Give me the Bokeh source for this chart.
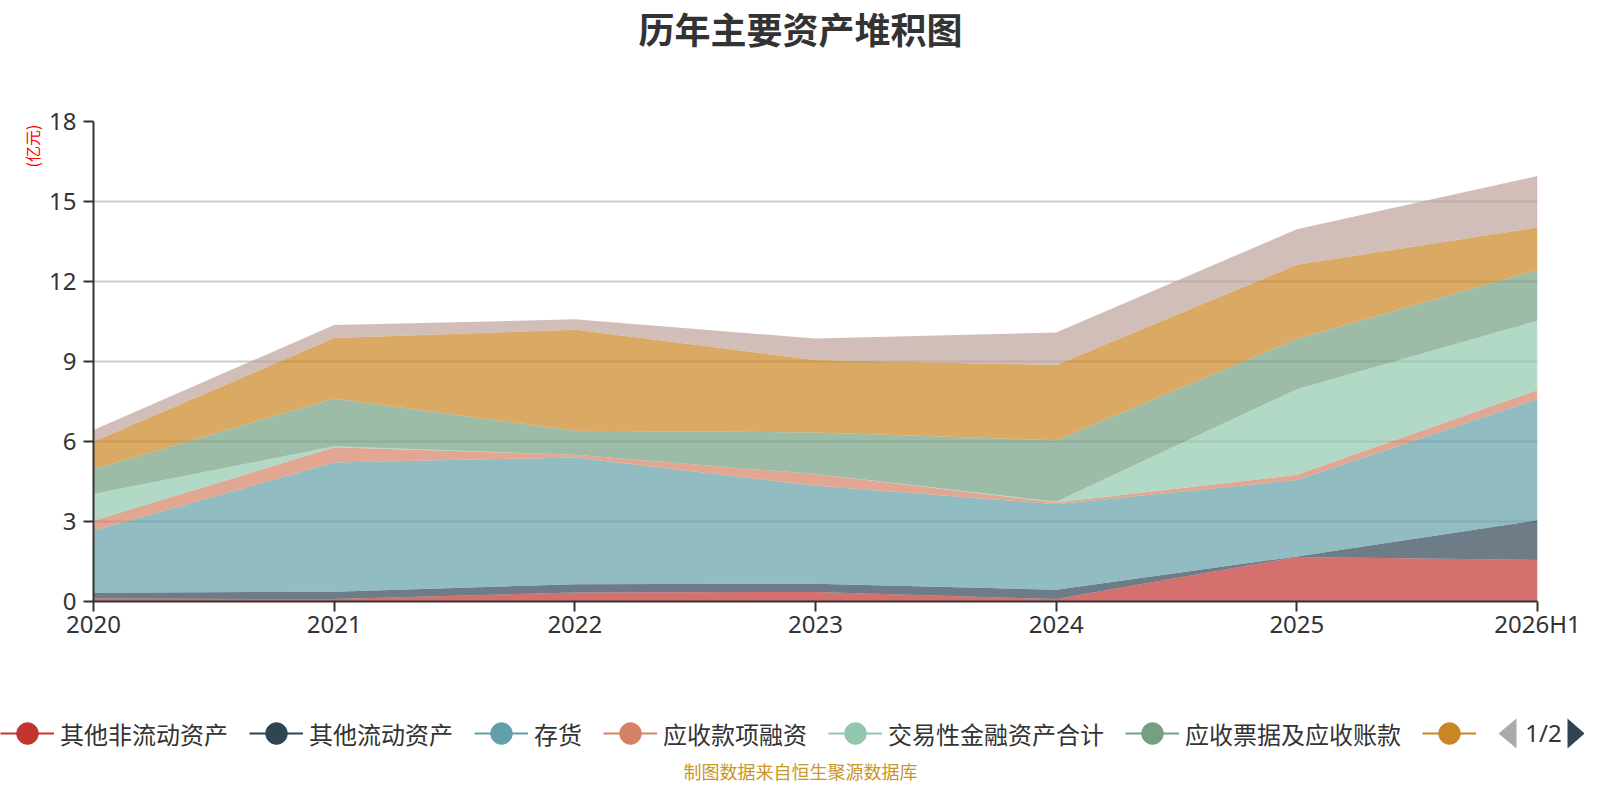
import math
from bokeh.plotting import figure
from bokeh.layouts import column, row
from bokeh.models import (Range1d, FixedTicker, Label, Legend, LegendItem,
                          ColumnDataSource, PolyAnnotation)
from bokeh.core.properties import value
from bokeh.embed import file_html
from bokeh.resources import INLINE

# ---------------- data ----------------
categories = ["2020", "2021", "2022", "2023", "2024", "2025", "2026H1"]

series_names = ["其他非流动资产", "其他流动资产", "存货", "应收款项融资",
                "交易性金融资产合计", "应收票据及应收账款", "货币资金", "其他"]

other_noncurrent = [0.11, 0.09, 0.34, 0.36, 0.09, 1.67, 1.56]
other_current    = [0.22, 0.28, 0.31, 0.31, 0.35, 0.02, 1.49]
inventory        = [2.32, 4.84, 4.75, 3.67, 3.21, 2.87, 4.54]
receivable_fin   = [0.38, 0.57, 0.10, 0.44, 0.06, 0.19, 0.34]
trading_assets   = [1.00, 0.04, 0.00, 0.00, 0.03, 3.21, 2.60]
notes_accounts   = [0.93, 1.79, 0.90, 1.56, 2.31, 1.88, 1.90]
cash             = [1.04, 2.27, 3.79, 2.72, 2.82, 2.79, 1.60]
others           = [0.43, 0.49, 0.39, 0.80, 1.22, 1.33, 1.93]

series_values = [other_noncurrent, other_current, inventory, receivable_fin,
                 trading_assets, notes_accounts, cash, others]

colors = ["#c23531", "#2f4554", "#61a0a8", "#d48265",
          "#91c7ae", "#749f83", "#ca8622", "#bda29a"]

legend_labels = ["其他非流动资产", "其他流动资产", "存货", "应收款项融资",
                 "交易性金融资产合计", "应收票据及应收账款", ""]

y_ticks = [0, 3, 6, 9, 12, 15, 18]

CJK = "Noto Sans CJK SC"
NUM = "Noto Sans"
W = 1584


def blank(width, height, **kw):
    f = figure(width=width, height=height, x_range=Range1d(0, 1), y_range=Range1d(0, 1),
               x_axis_location=None, y_axis_location=None,
               output_backend="svg", toolbar_location=None, title=None, **kw)
    f.outline_line_color = None
    for g in f.grid:
        g.visible = False
    return f


# ---------------- title strip ----------------
A_H = 60
pa = blank(W, A_H, min_border=0)
pa.add_layout(Label(x=800, y=A_H - 27, x_units="screen", y_units="screen",
                    text="历年主要资产堆积图", text_font=CJK, text_font_size="36px",
                    text_font_style="bold", text_color="#333333",
                    text_align="center", text_baseline="middle"))

# ---------------- main chart geometry ----------------
B_H = 612
D_W = 46
B_TOP = 61
B_BOTTOM = 71
FRAME_H = B_H - B_TOP - B_BOTTOM

# ---------------- unit strip (frame aligned with main frame) ----------------
pd_ = blank(D_W, B_H, min_border_left=0, min_border_right=0,
            min_border_top=B_TOP, min_border_bottom=B_BOTTOM)
pd_.add_layout(Label(x=31, y=FRAME_H - (145.5 - 60 - B_TOP), x_units="screen", y_units="screen",
                     text="(亿元)", text_font=CJK, text_font_size="16px",
                     text_color="#ff0000", angle=math.pi / 2,
                     text_align="center", text_baseline="middle"))

# ---------------- main chart ----------------
x_idx = list(range(len(categories)))
data = {"x": x_idx}
for name, vals in zip(series_names, series_values):
    data[name] = vals
source = ColumnDataSource(data)

p = figure(width=W - D_W, height=B_H,
           x_range=Range1d(0, len(categories) - 1),
           y_range=Range1d(y_ticks[0], y_ticks[-1]),
           output_backend="svg", toolbar_location=None, title=None,
           min_border_left=46, min_border_right=47,
           min_border_top=B_TOP, min_border_bottom=B_BOTTOM)
p.outline_line_color = None

p.varea_stack(stackers=series_names, x="x", source=source,
              fill_color=colors, fill_alpha=0.7)

xt = FixedTicker(ticks=x_idx)
yt = FixedTicker(ticks=y_ticks)
p.xaxis.ticker = xt
p.yaxis.ticker = yt
p.xaxis.major_label_overrides = {i: c for i, c in enumerate(categories)}
for ax in (p.xaxis[0], p.yaxis[0]):
    ax.axis_line_color = "#333333"
    ax.axis_line_width = 2
    ax.major_tick_line_color = "#333333"
    ax.major_tick_line_width = 2
    ax.major_tick_out = 10
    ax.major_tick_in = 0
    ax.minor_tick_line_color = None
    ax.major_label_text_font = NUM
    ax.major_label_text_font_size = "24px"
    ax.major_label_text_color = "#333333"
p.xaxis.major_label_standoff = -5
p.yaxis.major_label_standoff = 7

p.xgrid.visible = False
p.ygrid.ticker = yt
p.ygrid.grid_line_color = "#cccccc"
p.ygrid.grid_line_width = 2

# ---------------- legend + footer strip ----------------
C_H = 784 - A_H - B_H
pc = blank(W, C_H, min_border=0)
nan = float("nan")
items = []
for lab, col in zip(legend_labels, colors):
    rl = pc.line(x=[nan], y=[nan], line_color=col, line_width=2)
    rs = pc.scatter(x=[nan], y=[nan], marker="circle", fill_color=col,
                    line_color=col, size=22)
    items.append(LegendItem(label=value(lab), renderers=[rl, rs]))

legend = Legend(items=items, orientation="horizontal", location=(0, 21),
                glyph_width=54, glyph_height=60, label_standoff=6, spacing=21,
                padding=0, margin=0, border_line_alpha=0, background_fill_alpha=0,
                label_text_font=CJK, label_text_font_size="24px",
                label_text_color="#333333")
pc.add_layout(legend, "center")

# pagination
pc.add_layout(PolyAnnotation(xs=[1498, 1516, 1516], ys=[51, 66, 36],
                             xs_units="screen", ys_units="screen",
                             fill_color="#aaaaaa", fill_alpha=1, line_alpha=0))
pc.add_layout(Label(x=1543, y=52, x_units="screen", y_units="screen",
                    text="1/2", text_font=NUM, text_font_size="24px",
                    text_color="#333333", text_align="center", text_baseline="middle"))
pc.add_layout(PolyAnnotation(xs=[1584, 1567, 1567], ys=[51, 66, 36],
                             xs_units="screen", ys_units="screen",
                             fill_color="#2f4554", fill_alpha=1, line_alpha=0))

pc.add_layout(Label(x=800, y=14, x_units="screen", y_units="screen",
                    text="制图数据来自恒生聚源数据库", text_font=CJK, text_font_size="18px",
                    text_color="#c8962a", text_align="center", text_baseline="middle"))

layout = column(pa, row(pd_, p), pc)
open("out.html", "w").write(file_html(layout, INLINE))
